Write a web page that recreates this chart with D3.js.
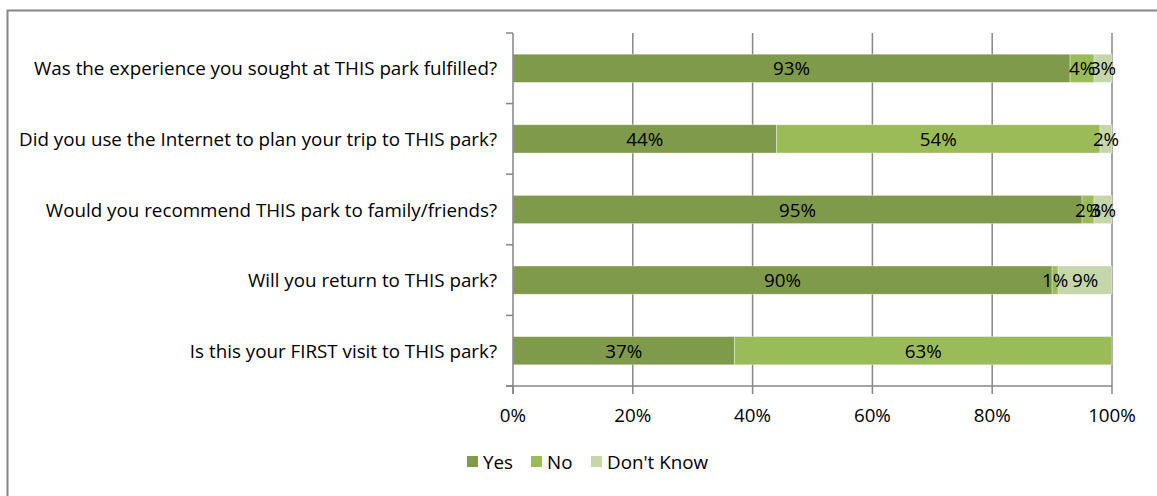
<!DOCTYPE html>
<html>
<head>
<meta charset="utf-8">
<script src="https://cdn.jsdelivr.net/npm/d3@7"></script>
<style>
  body { margin: 0; background: #fff; }
  text { font-family: "Open Sans", Lato, sans-serif; fill: #000; }
</style>
</head>
<body>
<script>
var questions = [
    "Was the experience you sought at THIS park fulfilled?",
    "Did you use the Internet to plan your trip to THIS park?",
    "Would you recommend THIS park to family/friends?",
    "Will you return to THIS park?",
    "Is this your FIRST visit to THIS park?"
];
var seriesNames = ["Yes", "No", "Don't Know"];
var yesVals = [93, 44, 95, 90, 37];
var noVals = [4, 54, 2, 1, 63];
var dkVals = [3, 2, 3, 9, 0];
var xTicks = [0, 20, 40, 60, 80, 100];
var colors = ["#809a4b", "#9bbb59", "#c5d6ab"];

var width = 1157, height = 496;
var plotLeft = 513, plotRight = 1112, plotTop = 33, plotBottom = 386;
var fs = "18.8px";

var svg = d3.select("body").append("svg")
    .attr("width", width)
    .attr("height", height);

// outer frame (only top & left visible)
svg.append("path")
    .attr("d", "M7.5,496V10.5H1160")
    .style("fill", "none")
    .style("stroke", "#868686")
    .style("stroke-width", 2);

var x = d3.scaleLinear().domain([0, 100]).range([plotLeft, plotRight]);
var y = d3.scaleBand().domain(questions).range([plotTop, plotBottom]).paddingInner(0.6).paddingOuter(0.3);

// gridlines
svg.selectAll(".grid")
    .data(xTicks.slice(1))
    .enter().append("line")
    .attr("x1", function(d) { return x(d); })
    .attr("x2", function(d) { return x(d); })
    .attr("y1", plotTop)
    .attr("y2", plotBottom)
    .style("stroke", "#868686")
    .style("stroke-width", 1.5);

var rows = questions.map(function(q, i) {
    return [yesVals[i], noVals[i], dkVals[i]];
});

rows.forEach(function(vals, i) {
    var start = 0;
    vals.forEach(function(v, j) {
        if (v > 0) {
            svg.append("rect")
                .attr("x", x(start))
                .attr("y", y(questions[i]))
                .attr("width", x(start + v) - x(start))
                .attr("height", y.bandwidth())
                .style("fill", colors[j])
                .style("stroke", "#ffffff")
                .style("stroke-width", 0.6)
                .style("stroke-opacity", 0.6);
        }
        start += v;
    });
});

rows.forEach(function(vals, i) {
    var start = 0;
    vals.forEach(function(v, j) {
        if (v > 0) {
            svg.append("text")
                .attr("x", x(start + v / 2))
                .attr("y", y(questions[i]) + y.bandwidth() / 2 + 7)
                .attr("text-anchor", "middle")
                .style("font-size", fs)
                .text(v + "%");
        }
        start += v;
    });
});

// y axis
svg.append("line")
    .attr("x1", plotLeft).attr("x2", plotLeft)
    .attr("y1", plotTop).attr("y2", plotBottom + 8)
    .style("stroke", "#868686").style("stroke-width", 1.5);

var yTickPos = d3.range(questions.length + 1).map(function(i) {
    return plotTop + i * (plotBottom - plotTop) / questions.length;
});
svg.selectAll(".ytick")
    .data(yTickPos)
    .enter().append("line")
    .attr("x1", plotLeft - 7).attr("x2", plotLeft)
    .attr("y1", function(d) { return d; })
    .attr("y2", function(d) { return d; })
    .style("stroke", "#868686").style("stroke-width", 1.5);

svg.selectAll(".qlabel")
    .data(questions)
    .enter().append("text")
    .attr("x", 497)
    .attr("y", function(d) { return y(d) + y.bandwidth() / 2 + 7; })
    .attr("text-anchor", "end")
    .style("font-size", fs)
    .text(function(d) { return d; });

// x axis
svg.append("line")
    .attr("x1", plotLeft - 7).attr("x2", plotRight)
    .attr("y1", plotBottom).attr("y2", plotBottom)
    .style("stroke", "#868686").style("stroke-width", 1.5);

svg.selectAll(".xtick")
    .data(xTicks)
    .enter().append("line")
    .attr("x1", function(d) { return x(d); })
    .attr("x2", function(d) { return x(d); })
    .attr("y1", plotBottom).attr("y2", plotBottom + 8)
    .style("stroke", "#868686").style("stroke-width", 1.5);

svg.selectAll(".xlabel")
    .data(xTicks)
    .enter().append("text")
    .attr("x", function(d) { return x(d); })
    .attr("y", 422)
    .attr("text-anchor", "middle")
    .style("font-size", fs)
    .text(function(d) { return d + "%"; });

// legend
var legendX = [467, 531, 591];
seriesNames.forEach(function(name, i) {
    svg.append("rect")
        .attr("x", legendX[i])
        .attr("y", 456)
        .attr("width", 11)
        .attr("height", 11)
        .style("fill", colors[i]);
    svg.append("text")
        .attr("x", legendX[i] + 16)
        .attr("y", 469)
        .style("font-size", fs)
        .text(name);
});
</script>
</body>
</html>
